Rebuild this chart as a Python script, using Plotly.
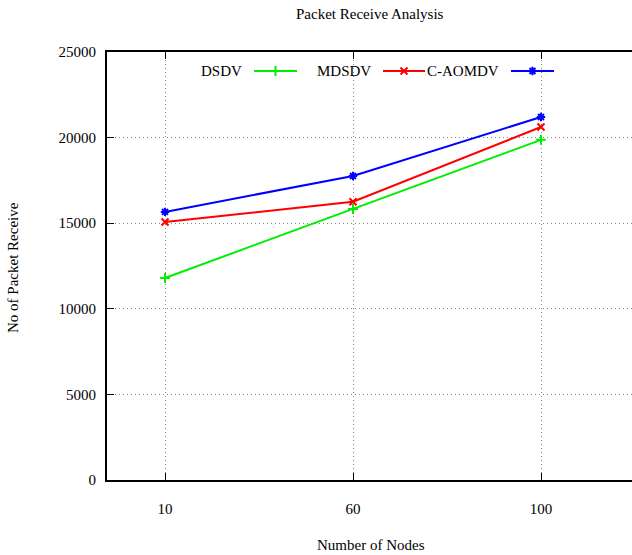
import plotly.graph_objects as go

# ---- data ----
nodes = ["10", "60", "100"]
dsdv = [11800, 15830, 19870]
mdsdv = [15070, 16250, 20620]
caomdv = [15660, 17760, 21200]
y_ticks = [0, 5000, 10000, 15000, 20000, 25000]
y_tick_labels = ["0", "5000", "10000", "15000", "20000", "25000"]

W, H = 632, 555
L, R, T, B = 107, 0, 52, 75
PW, PH = W - L - R, H - T - B
FONT = "Liberation Serif"


def px_x(p):
    return (p - L) / PW


def px_y(p):
    return (H - B - p) / PH


series = [
    ("DSDV", dsdv, "#00ee00", "cross-thin-open", (244, 254, 297)),
    ("MDSDV", mdsdv, "#ff0000", "x-thin-open", (373, 383, 425)),
    ("C-AOMDV", caomdv, "#0000ff", "asterisk-open", (501, 511, 554)),
]

fig = go.Figure()
shapes = []
annotations = []
leg_y = 71
for name, vals, color, sym, (txt_end, l0, l1) in series:
    fig.add_trace(go.Scatter(
        x=nodes, y=vals, mode="lines+markers", name=name,
        line=dict(color=color, width=2),
        marker=dict(symbol=sym, size=7, color=color, line=dict(color=color, width=2)),
        showlegend=False,
    ))
    # gnuplot-style key: text then sample
    annotations.append(dict(
        text=name, xref="paper", yref="paper", x=px_x(txt_end), y=px_y(leg_y),
        xanchor="right", yanchor="middle", showarrow=False,
        font=dict(family=FONT, size=15, color="black"),
    ))
    shapes.append(dict(
        type="line", xref="paper", yref="paper",
        x0=px_x(l0), x1=px_x(l1), y0=px_y(leg_y), y1=px_y(leg_y),
        line=dict(color=color, width=2),
    ))
    fig.add_trace(go.Scatter(
        x=[(px_x(l0) + px_x(l1)) / 2], y=[px_y(leg_y)], xaxis="x2", yaxis="y2",
        mode="markers", showlegend=False, hoverinfo="skip",
        marker=dict(symbol=sym, size=7, color=color, line=dict(color=color, width=2)),
    ))

annotations.append(dict(
    text="No of Packet Receive", xref="paper", yref="paper",
    x=px_x(13), y=px_y(268), xanchor="center", yanchor="middle",
    textangle=-90, showarrow=False, font=dict(family=FONT, size=15, color="black"),
))
annotations.append(dict(
    text="Number of Nodes", xref="paper", yref="paper",
    x=px_x(371), y=px_y(545), xanchor="center", yanchor="middle",
    showarrow=False, font=dict(family=FONT, size=15, color="black"),
))
annotations.append(dict(
    text="Packet Receive Analysis", xref="paper", yref="paper",
    x=px_x(370), y=px_y(14), xanchor="center", yanchor="middle",
    showarrow=False, font=dict(family=FONT, size=15, color="black"),
))

grid = dict(gridcolor="#888888", griddash="1px,3px", gridwidth=1)
fig.update_layout(
    width=W, height=H,
    margin=dict(l=L, r=R, t=T, b=B),
    paper_bgcolor="white", plot_bgcolor="white",
    font=dict(family=FONT, size=15, color="black"),
    shapes=shapes, annotations=annotations,
    xaxis=dict(
        type="category", range=[-58 / 188, 2 + 91 / 188],
        showline=True, linecolor="black", linewidth=2, mirror="ticks",
        ticks="inside", ticklen=7, tickwidth=1, tickcolor="black",
        showgrid=True, **grid, zeroline=False,
        ticklabelstandoff=14,
    ),
    yaxis=dict(
        range=[0, 25000], tickvals=y_ticks, ticktext=y_tick_labels,
        showline=True, linecolor="black", linewidth=2,
        ticks="inside", ticklen=7, tickwidth=1, tickcolor="black",
        showgrid=True, **grid, zeroline=False,
        ticklabelstandoff=6,
    ),
    xaxis2=dict(range=[0, 1], overlaying="x", visible=False, fixedrange=True),
    yaxis2=dict(range=[0, 1], overlaying="y", visible=False, fixedrange=True),
)

fig.write_html("out.html")
